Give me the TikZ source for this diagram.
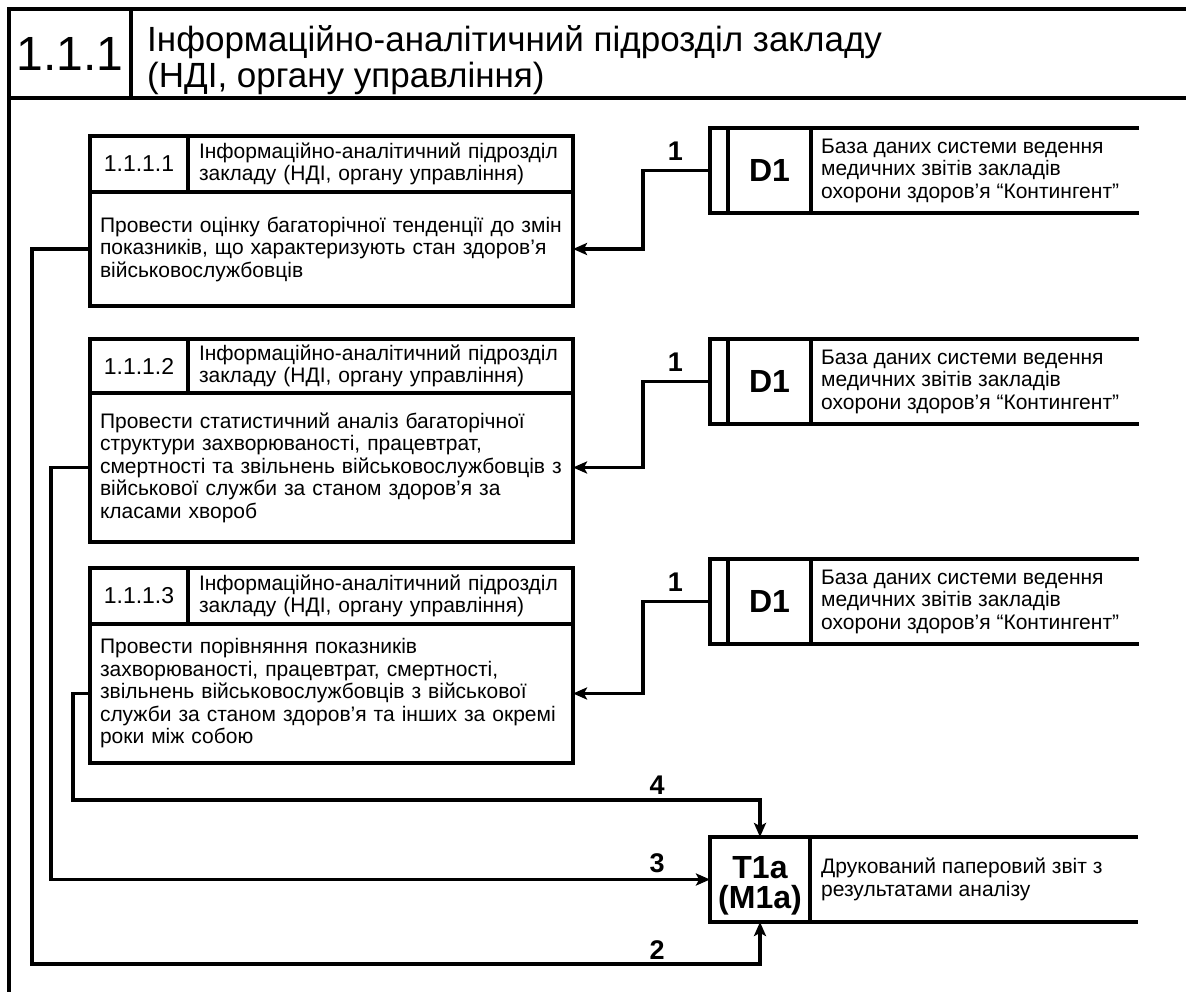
\documentclass[tikz,border=0pt]{standalone}
\usepackage{fontspec}
\setmainfont{Liberation Sans}
\usetikzlibrary{arrows.meta,positioning}

\tikzset{
  box/.style = {draw, line width=4pt, inner sep=0pt, outer sep=0pt, anchor=north west},
  txt/.style = {font=\fontsize{21}{22.5}\selectfont, align=left},
  code/.style = {font=\bfseries\fontsize{32}{30}\selectfont, align=center},
  lbl/.style = {font=\bfseries\fontsize{27}{27}\selectfont, inner sep=0pt},
  flow/.style = {line width=3.5pt, -{Stealth[length=14pt,width=12pt,inset=3pt]}},
  edge/.style = {line width=4pt},
}

\begin{document}
\begin{tikzpicture}[x=1pt,y=-1pt]
\def\hdr{Інформаційно-аналітичний підрозділ\\закладу (НДІ, органу управління)}
\def\dbtext{База даних системи ведення\\медичних звітів закладів\\охорони здоров’я “Контингент”}
\useasboundingbox (0,0) rectangle (1186,992);

% frame
\node[box, minimum width=122, minimum height=89, font=\fontsize{48}{48}\selectfont] (top) at (9,9) {1.1.1};
\draw[edge] (top.north east) -- (1186,9) (top.south east) -- (1186,98) (top.south west) -- (9,992);
\node[anchor=north west, inner sep=0pt, align=left, font=\fontsize{35}{36}\selectfont] (ttl) at (147,25) {Інформаційно-аналітичний підрозділ закладу\\(НДІ, органу управління)};

% 1.1.1.1
\node[box, minimum width=98, minimum height=56, font=\fontsize{23}{23}\selectfont] (n1) at (90,136) {1.1.1.1};
\node[box, txt, minimum width=385, minimum height=56, text width=363] (h1) at (n1.north east) {\hdr};
\node[box, txt, minimum width=483, minimum height=114, text width=463] (b1) at (n1.south west) {Провести оцінку багаторічної тенденції до змін\\показників, що характеризують стан здоров’я\\військовослужбовців};

% 1.1.1.2
\node[box, minimum width=98, minimum height=54, font=\fontsize{23}{23}\selectfont] (n2) at (90,339) {1.1.1.2};
\node[box, txt, minimum width=385, minimum height=54, text width=363] (h2) at (n2.north east) {\hdr};
\node[box, txt, minimum width=483, minimum height=149, text width=463] (b2) at (n2.south west) {Провести статистичний аналіз багаторічної\\структури захворюваності, працевтрат,\\смертності та звільнень військовослужбовців з\\військової служби за станом здоров’я за\\класами хвороб};

% 1.1.1.3
\node[box, minimum width=98, minimum height=56, font=\fontsize{23}{23}\selectfont] (n3) at (90,568) {1.1.1.3};
\node[box, txt, minimum width=385, minimum height=56, text width=363] (h3) at (n3.north east) {\hdr};
\node[box, txt, minimum width=483, minimum height=139, text width=463] (b3) at (n3.south west) {Провести порівняння показників\\захворюваності, працевтрат, смертності,\\звільнень військовослужбовців з військової\\служби за станом здоров’я та інших за окремі\\роки між собою};

% D1 stores
\node[box, minimum width=18, minimum height=85] (s1) at (710,128) {};
\node[box, code, minimum width=83, minimum height=85] (d1) at (s1.north east) {D1};
\draw[edge] (d1.north east) -- ++(328,0) (d1.south east) -- ++(328,0);
\node[txt, anchor=west, inner sep=0pt] (t1) at ([xshift=10pt]d1.east) {\dbtext};

\node[box, minimum width=18, minimum height=85] (s2) at (710,339) {};
\node[box, code, minimum width=83, minimum height=85] (d2) at (s2.north east) {D1};
\draw[edge] (d2.north east) -- ++(328,0) (d2.south east) -- ++(328,0);
\node[txt, anchor=west, inner sep=0pt] (t2) at ([xshift=10pt]d2.east) {\dbtext};

\node[box, minimum width=18, minimum height=85] (s3) at (710,559) {};
\node[box, code, minimum width=83, minimum height=85] (d3) at (s3.north east) {D1};
\draw[edge] (d3.north east) -- ++(328,0) (d3.south east) -- ++(328,0);
\node[txt, anchor=west, inner sep=0pt] (t3) at ([xshift=10pt]d3.east) {\dbtext};

\draw[flow] (s1.west) -- ++(-67,0) |- (b1.east);
\node[lbl, above left=10pt and 27pt of s1.west] (q1) {1};
\draw[flow] (s2.west) -- ++(-67,0) |- (b2.east);
\node[lbl, above left=10pt and 27pt of s2.west] (q2) {1};
\draw[flow] (s3.west) -- ++(-67,0) |- (b3.east);
\node[lbl, above left=10pt and 27pt of s3.west] (q3) {1};

% result
\node[box, minimum width=100, minimum height=85] (tm) at (710,837) {};
\node[code, inner sep=0pt] (tc) at ([yshift=-6pt]tm.center) {T1a\\(M1a)};
\draw[edge] (tm.north east) -- ++(328,0) (tm.south east) -- ++(328,0);
\node[txt, anchor=west, inner sep=0pt] (tr) at ([xshift=11pt]tm.east) {Друкований паперовий звіт з\\результатами аналізу};

\coordinate (k2) at (32,964);
\coordinate (k3) at (51,879.5);
\coordinate (k4) at (73,800);
\draw[flow] (b1.west) -| (k2) -| (tm.south);
\draw[flow] (b2.west) -| (k3) -- (k3 -| tm.west);
\draw[flow] (b3.west) -| (k4) -| (tm.north);
\node[lbl] (q4) at (657,785) {4};
\node[lbl] (q5) at (657,863) {3};
\node[lbl] (q6) at (657,950) {2};
\end{tikzpicture}
\end{document}
